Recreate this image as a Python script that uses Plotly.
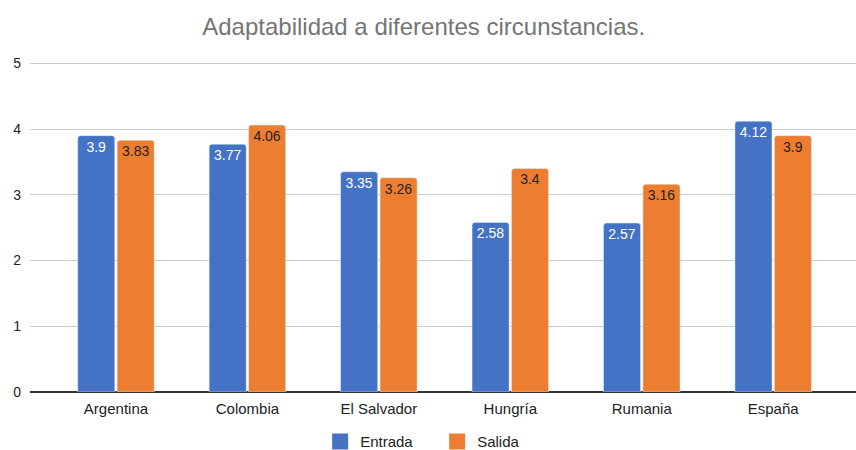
import plotly.graph_objects as go

# Survey results: adaptability to different circumstances
paises = ["Argentina", "Colombia", "El Salvador", "Hungría", "Rumania", "España"]
entrada = [3.9, 3.77, 3.35, 2.58, 2.57, 4.12]
salida = [3.83, 4.06, 3.26, 3.4, 3.16, 3.9]
series = ["Entrada", "Salida"]

azul = "#4472C4"
naranja = "#ED7D31"
fuente = "Liberation Sans, Arial, sans-serif"

fig = go.Figure()
fig.add_trace(go.Bar(
    name=series[0], x=paises, y=entrada, marker_color=azul, showlegend=False,
    text=[f"{v:g}" for v in entrada], textposition="inside",
    insidetextanchor="end", textangle=0,
    insidetextfont=dict(color="white", size=14, family=fuente),
))
fig.add_trace(go.Bar(
    name=series[1], x=paises, y=salida, marker_color=naranja, showlegend=False,
    text=[f"{v:g}" for v in salida], textposition="inside",
    insidetextanchor="end", textangle=0,
    insidetextfont=dict(color="#222222", size=14, family=fuente),
))

# Legend entries with larger square swatches
for nombre, color in zip(series, [azul, naranja]):
    fig.add_trace(go.Scatter(
        name=nombre, x=[None], y=[None], mode="markers",
        marker=dict(symbol="square", size=22, color=color),
        showlegend=True,
    ))

fig.update_layout(
    width=856, height=450,
    paper_bgcolor="white", plot_bgcolor="white",
    margin=dict(l=30, r=0, t=62, b=58, autoexpand=False),
    barmode="group", bargap=0.40, bargroupgap=0.06,
    barcornerradius=3,
    font=dict(family=fuente, color="#222222"),
    title=dict(
        text="Adaptabilidad a diferentes circunstancias.",
        x=0.495, xanchor="center", xref="container",
        y=0.94, yanchor="middle",
        font=dict(size=24, color="#757575", family=fuente),
    ),
    legend=dict(
        orientation="h", x=0.374, xanchor="left", xref="container",
        y=-0.101, yanchor="top", yref="paper",
        font=dict(size=15, color="#222222"),
        itemsizing="trace", tracegroupgap=0,
        entrywidth=72, entrywidthmode="pixels",
    ),
    uniformtext=dict(minsize=8, mode="show"),
)
fig.update_xaxes(
    range=[-0.654, 5.63], showgrid=False,
    showline=False, ticks="",
    tickfont=dict(size=15, color="#222222"),
    ticklabelstandoff=6,
)
fig.update_yaxes(
    range=[0, 5.02], tickvals=[0, 1, 2, 3, 4, 5],
    showgrid=True, gridcolor="#cccccc", gridwidth=1,
    zeroline=True, zerolinecolor="#333333", zerolinewidth=1.5,
    ticks="", tickfont=dict(size=14, color="#222222"),
    ticklabelstandoff=8,
)

fig.write_html("out.html")
